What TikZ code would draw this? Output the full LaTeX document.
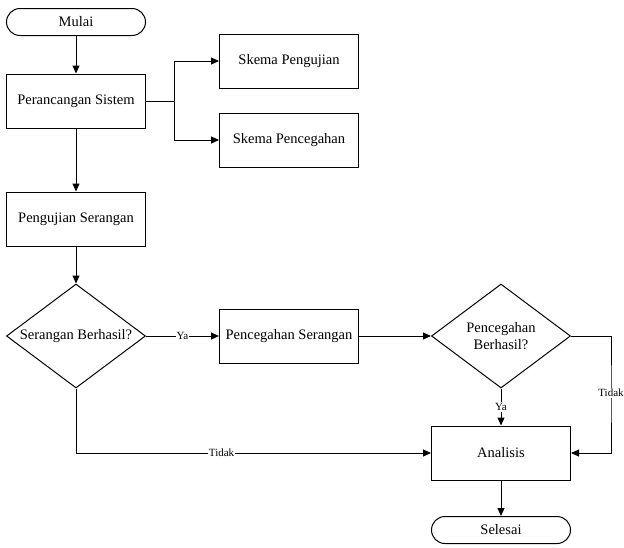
\documentclass[tikz,border=0pt]{standalone}
\usepackage{fontspec}
\setmainfont{Liberation Serif}
\usetikzlibrary{arrows.meta}
\usetikzlibrary{positioning}
\usetikzlibrary{shapes.geometric}

\tikzset{
	proses/.style={draw, line width=1pt, minimum width=139pt, minimum height=54pt, inner sep=0pt, font=\fontsize{14.5}{17}\selectfont},
	terminal/.style={draw, line width=1pt, rounded corners=13.5pt, minimum width=139pt, minimum height=27pt, inner sep=0pt, font=\fontsize{14.5}{17}\selectfont},
	keputusan/.style={draw, diamond, line width=1pt, minimum width=139pt, minimum height=104pt, inner sep=0pt},
	ket/.style={fill=white, inner sep=1pt, font=\fontsize{11}{13}\selectfont}
}

\begin{document}
\begin{tikzpicture}[x=1pt, y=-1pt, >={Triangle[length=8pt, width=7pt]}, line width=1pt]
				\useasboundingbox (0,0) rectangle (624,547);
				
				% draw nodes
				\node[terminal] (mulai) at (76,22) {Mulai};
				\node[proses] (rancang) at (76,101) {Perancangan Sistem};
				\node[proses] (skemauji) at (289,61) {Skema Pengujian};
				\node[proses] (skemacegah) at (289,140) {Skema Pencegahan};
				\node[proses] (uji) at (76,219) {Pengujian Serangan};
				\node[keputusan, label={[font=\fontsize{14.5}{17}\selectfont]center:Serangan Berhasil?}] (cek1) at (76,336) {};
				\node[proses] (cegah) at (289,336) {Pencegahan Serangan};
				\node[keputusan, label={[font=\fontsize{14.5}{17}\selectfont, align=center]center:Pencegahan\\Berhasil?}] (cek2) at (501,336) {};
				\node[proses] (analisis) at (501,453) {Analisis};
				\node[terminal] (selesai) at (501,530) {Selesai};
				
				% draw branch points
				\coordinate (cabang) at (174,101);
				\coordinate (kanan) at (611,393);
				
				% draw arrows
				\draw[->] (mulai) -- (rancang);
				\draw (rancang) -- (cabang);
				\draw[->] (cabang) |- (skemauji);
				\draw[->] (cabang) |- (skemacegah);
				\draw[->] (rancang) -- (uji);
				\draw[->] (uji) -- (cek1);
				\draw[->] (cek1) -- node[ket] (ya1) {Ya} (cegah);
				\draw[->] (cegah) -- (cek2);
				\draw[->] (cek2) -- node[ket] (ya2) {Ya} (analisis);
				\draw[->] (cek2.east) -| (kanan) |- (analisis.east);
				\node[ket] (tidak2) at (kanan) {Tidak};
				\draw[->] (cek1.south) |- node[ket, pos=0.705] (tidak1) {Tidak} (analisis.west);
				\draw[->] (analisis) -- (selesai);
			\end{tikzpicture}
\end{document}
